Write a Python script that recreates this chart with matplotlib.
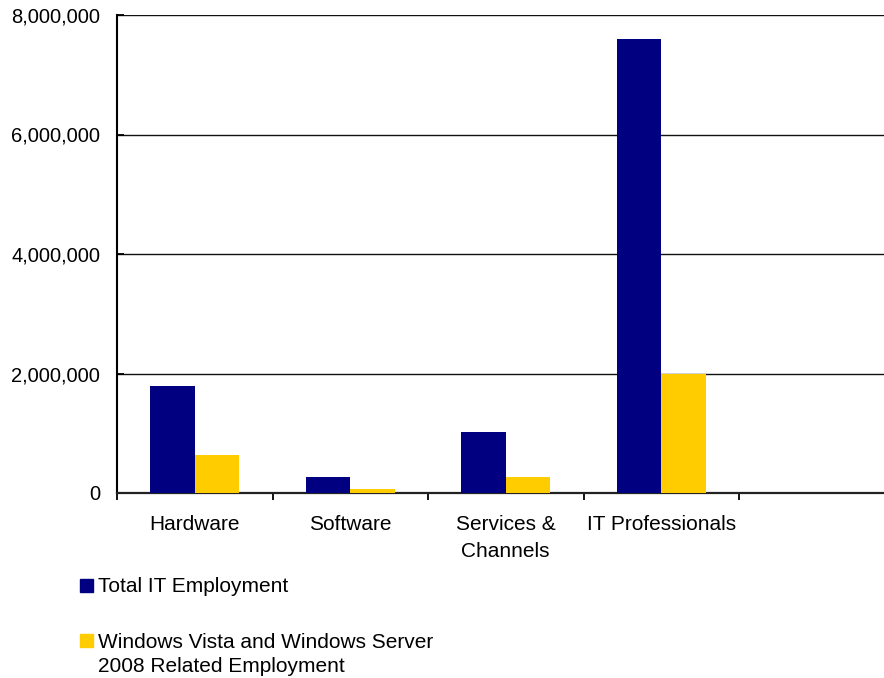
import matplotlib
matplotlib.use("Agg")
import matplotlib.pyplot as plt
from matplotlib.patches import Rectangle
from matplotlib.ticker import FuncFormatter, FixedLocator
import numpy as np

plt.rcParams['font.family'] = ['Liberation Sans', 'DejaVu Sans']

categories = ["Hardware", "Software", "Services &\nChannels", "IT Professionals", ""]
total_it = [1790000, 268000, 1020000, 7600000, 0]
vista_related = [636000, 67000, 268000, 1990000, 0]
series_names = ["Total IT Employment",
                "Windows Vista and Windows Server\n2008 Related Employment"]
colors = ["#000080", "#FFCC00"]
yticks = [0, 2000000, 4000000, 6000000, 8000000]

W, H = 884, 678
fs = 15
fig = plt.figure(figsize=(W / 100, H / 100), dpi=100)

# plot area: category slots of ~155.5 px, the last slot runs past the right edge
left, bottom, top = 117, 493, 15
slot = 155.5
ax = fig.add_axes([left / W, (H - bottom) / H, 5 * slot / W, (bottom - top) / H])

n = len(categories)
x = np.arange(n) + 0.5
bw = 1 / 3.5
ax.bar(x - bw / 2, total_it, width=bw, color=colors[0], zorder=3)
ax.bar(x + bw / 2, vista_related, width=bw, color=colors[1], zorder=3)

ax.set_xlim(0, n)
ax.set_ylim(0, 8000000)

ax.yaxis.set_major_locator(FixedLocator(yticks))
ax.yaxis.set_major_formatter(FuncFormatter(lambda v, p: f"{int(v):,}"))
ax.grid(axis='y', color='#111111', linewidth=1.0, zorder=0)
ax.tick_params(axis='y', direction='in', length=5, width=1.3, labelsize=14.5,
               pad=12, colors='black')

ax.set_xticks(np.arange(n + 1))
ax.set_xticklabels([])
ax.tick_params(axis='x', which='major', direction='out', length=5, width=1.3)
ax.set_xticks(x, minor=True)
ax.set_xticklabels(categories, minor=True, fontsize=fs, linespacing=1.53)
ax.tick_params(axis='x', which='minor', length=0, pad=16)

for s in ['top', 'right']:
    ax.spines[s].set_visible(False)
ax.spines['left'].set_linewidth(1.5)
ax.spines['bottom'].set_linewidth(1.6)
ax.spines['bottom'].set_color('#222222')

# legend drawn in figure pixels
def fx(px):
    return px / W

def fy(py):
    return 1 - py / H

sq = 13
line_gap = 25
legend_rows = [(585, 0), (640, 1)]
for yc, i in legend_rows:
    fig.patches.append(Rectangle((fx(80), fy(yc + sq / 2)), sq / W, sq / H,
                                 transform=fig.transFigure, color=colors[i]))
    for k, line in enumerate(series_names[i].split("\n")):
        fig.text(fx(98), fy(yc + k * line_gap), line, fontsize=fs,
                 va='center_baseline', ha='left')

fig.savefig("out.png", dpi=100)
